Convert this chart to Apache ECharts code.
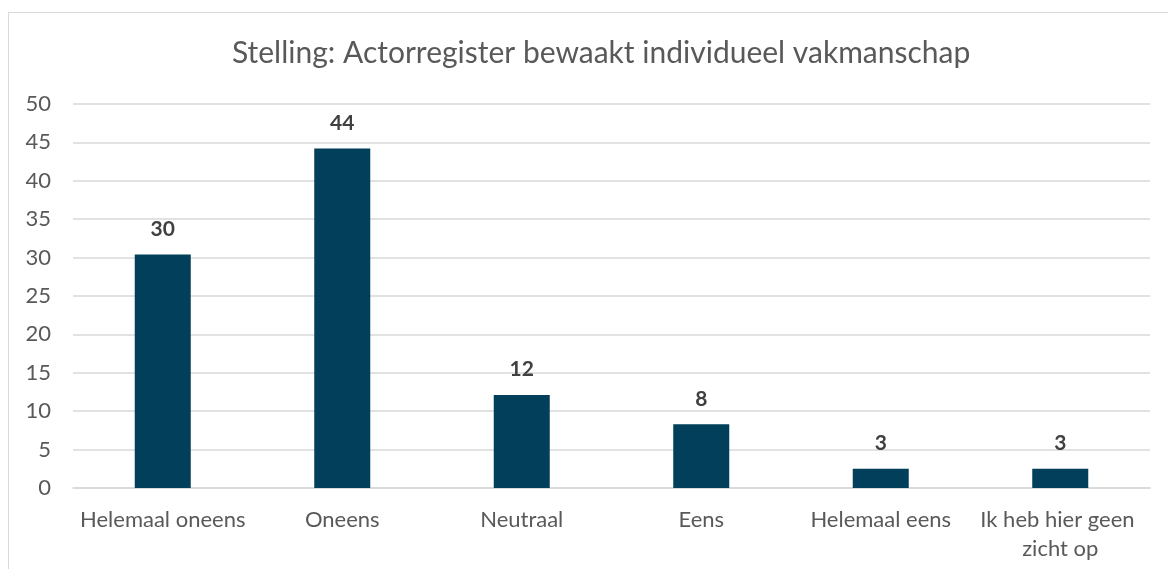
<!DOCTYPE html>
<html>
<head>
<meta charset="utf-8">
<script src="https://cdn.jsdelivr.net/npm/echarts@6/dist/echarts.min.js"></script>
<style>
html,body{margin:0;padding:0;background:#fff;}
#frame{position:absolute;left:8px;top:12px;width:1170px;height:570px;border:1px solid #d9d9d9;box-sizing:border-box;}
#chart{position:absolute;left:0;top:0;width:1168px;height:569px;}
</style>
</head>
<body>
<div id="frame"></div>
<div id="chart"></div>
<script>
const titleText = 'Stelling: Actorregister bewaakt individueel vakmanschap';
const categories = ['Helemaal oneens', 'Oneens', 'Neutraal', 'Eens', 'Helemaal eens', 'Ik heb hier geen zicht op'];
const values = [30.4, 44.2, 12.1, 8.3, 2.5, 2.5];
const yTicks = [0, 5, 10, 15, 20, 25, 30, 35, 40, 45, 50];

const chart = echarts.init(document.getElementById('chart'), null, {renderer: 'canvas'});
const font = 'Lato, "Open Sans", sans-serif';
chart.setOption({
  backgroundColor: 'transparent',
  animation: false,
  title: {
    text: titleText,
    left: 227,
    top: 33,
    textStyle: {fontFamily: font, fontSize: 30, fontWeight: 'normal', color: '#595959'}
  },
  grid: {left: 73, right: 18, top: 104, bottom: 81},
  xAxis: {
    type: 'category',
    data: categories,
    axisLine: {lineStyle: {color: '#d9d9d9', width: 1.5}},
    axisTick: {show: false},
    axisLabel: {
      fontFamily: font, fontSize: 22, color: '#595959', margin: 17,
      width: 175, overflow: 'break', lineHeight: 29, interval: 0
    }
  },
  yAxis: {
    type: 'value',
    min: yTicks[0],
    max: yTicks[yTicks.length - 1],
    interval: 5,
    axisLine: {show: false},
    axisTick: {show: false},
    splitLine: {lineStyle: {color: '#d9d9d9', width: 1.5}},
    axisLabel: {fontFamily: font, fontSize: 22, color: '#595959', margin: 22}
  },
  series: [{
    type: 'bar',
    data: values,
    barWidth: 56,
    itemStyle: {color: '#013f5a'},
    label: {
      show: true,
      position: 'top',
      distance: 15,
      fontFamily: font,
      fontSize: 21,
      fontWeight: 'bold',
      color: '#404040',
      formatter: p => String(Math.round(p.value))
    }
  }]
});
</script>
</body>
</html>
